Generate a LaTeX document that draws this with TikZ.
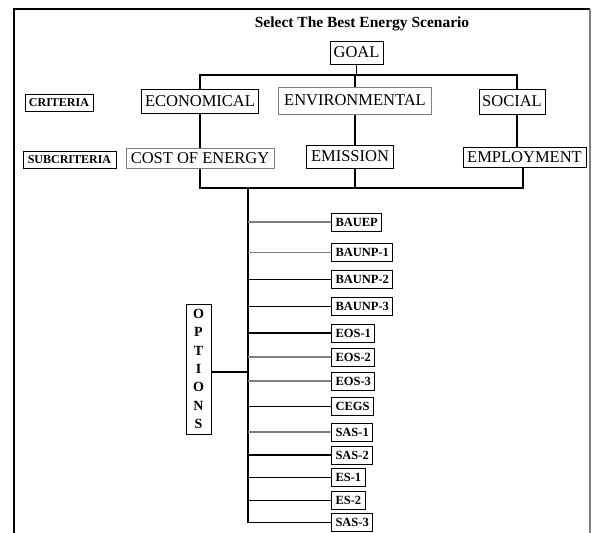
\documentclass[tikz,border=0pt]{standalone}
\usepackage{fontspec}
\setmainfont{Liberation Serif}
\usepackage{tikz}
\usetikzlibrary{positioning, calc}

\begin{document}
\begin{tikzpicture}[x=1pt, y=-1pt,
  level box/.style={draw, line width=1pt, inner sep=0pt, font=\fontsize{16.5}{18}\selectfont},
  side box/.style={draw, line width=0.8pt, inner sep=0pt, minimum height=17, font=\fontsize{12}{13}\selectfont\bfseries},
  option box/.style={draw, line width=1pt, anchor=west, inner xsep=4pt, inner ysep=0pt, minimum height=18, font=\fontsize{12.5}{14}\selectfont\bfseries},
  main line/.style={line width=1.8pt},
  branch line/.style={line width=1.2pt}]
\useasboundingbox (0,0) rectangle (592,533);

% frame
\draw [line width=1.8pt] (14,533) -- (14,9) -- (590,9);
\draw [gray, line width=1.2pt] (590,9) -- (590,533);

\node [font=\fontsize{15.5}{18}\selectfont\bfseries] (title) at (362,24) {Select The Best Energy Scenario};

% goal and criteria
\node [level box, minimum width=53, minimum height=23] (goal) at (356.5,52.5) {GOAL};
\node [level box, minimum width=117, minimum height=24] (econ) at (200,101) {ECONOMICAL};
\node [level box, draw=gray, minimum width=153, minimum height=27] (env) at (355,100.5) {ENVIRONMENTAL};
\node [level box, minimum width=66, minimum height=25] (social) at (512,101.5) {SOCIAL};
\node [side box, minimum width=68] (crit) at (59,102.5) {CRITERIA};

% subcriteria
\node [level box, draw=gray, minimum width=148, minimum height=20] (cost) at (200,158) {COST OF ENERGY};
\node [level box, minimum width=87, minimum height=23] (emis) at (350,156.5) {EMISSION};
\node [level box, minimum width=123, minimum height=20] (employ) at (524.5,157) {EMPLOYMENT};
\node [side box, minimum width=93] (subcrit) at (69.5,159.5) {SUBCRITERIA};

\coordinate (J1) at (200,75);
\coordinate (J2) at (517,75);
\coordinate (J3) at (200,188);
\coordinate (J4) at (523,188);
\coordinate (T1) at (248,188);
\coordinate (T2) at (248,523);

\draw [main line] (goal.south) -- (goal.south |- J1);
\draw [main line] (econ.north) -- (J1) -- (J2) -- (J2 |- social.north);
\draw [main line] (env.north) -- (env.north |- J1);
\draw [main line] (econ.south) -- (cost.north);
\draw [main line] (env.south) -- (env.south |- emis.north);
\draw [main line] (J2 |- social.south) -- (J2 |- employ.north);
\draw [main line] (cost.south) -- (J3) -- (J4) -- (J4 |- employ.south);
\draw [main line] (emis.south -| env.south) -- (env.south |- J3);

% options
\draw [main line] (T1) -- (T2);
\node [draw, line width=0.9pt, minimum width=25, minimum height=130, inner sep=0pt, align=center,
  font=\fontsize{14}{18.3}\selectfont\bfseries] (options) at (198.5,369) {O\\P\\T\\I\\O\\N\\S};
\draw [main line] (options.east |- 0,372) -- (T1 |- 0,372);

\foreach \name/\y/\col [count=\i] in {BAUEP/222/gray, BAUNP-1/252.5/gray, BAUNP-2/279.5/black,
  BAUNP-3/306.5/black, EOS-1/333/black, EOS-2/357/gray, EOS-3/381/gray, CEGS/406.5/black,
  SAS-1/432/gray, SAS-2/455/black, ES-1/477.5/black, ES-2/500.5/black, SAS-3/522.5/black} {
  \node [option box] (opt\i) at (331,\y) {\name};
  \draw [branch line, draw=\col] (T1 |- opt\i.west) -- (opt\i.west);
}
\end{tikzpicture}
\end{document}
